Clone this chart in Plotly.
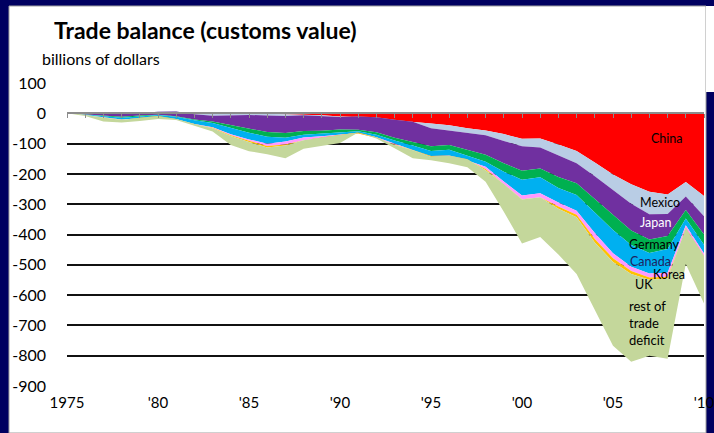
import plotly.graph_objects as go

# US trade balance by partner, billions of dollars (customs value)
years = list(range(1975, 2011))

china = [0.2, 0.0, 0.0, 0.5, 1.1, 2.7, 1.7, 0.3, -0.3, -0.1, 0.0, -1.7, -2.8, -3.5, -6.2, -10.4,
         -12.7, -18.3, -22.8, -29.5, -33.8, -39.5, -49.7, -56.9, -68.7, -83.8, -83.1, -103.1,
         -124.1, -162.3, -202.3, -234.1, -258.5, -268.0, -226.9, -273.1]
mexico = [2.0, 1.3, -0.7, -0.4, 0.0, 2.3, 4.0, -3.8, -7.7, -5.8, -5.5, -5.2, -5.7, -2.6, -2.2, -1.9,
          2.1, 5.4, 1.7, 1.4, -15.8, -17.5, -14.5, -15.9, -22.8, -24.6, -30.0, -37.1, -40.6,
          -45.1, -49.7, -64.4, -74.8, -64.7, -47.8, -66.4]
japan = [-1.7, -5.4, -8.0, -11.6, -8.7, -10.0, -15.8, -17.0, -19.3, -33.6, -46.2, -55.0, -56.3,
         -52.1, -49.1, -41.1, -43.4, -49.6, -59.4, -65.7, -59.1, -47.6, -56.1, -64.0, -73.4,
         -81.6, -69.0, -70.1, -66.0, -75.6, -82.7, -88.4, -82.8, -72.3, -44.7, -60.1]
germany = [0.6, -0.2, -1.3, -3.1, -2.9, -0.9, -1.6, -2.5, -4.4, -9.0, -12.2, -15.6, -16.3, -12.2,
           -8.3, -9.4, -4.9, -8.3, -9.6, -12.5, -15.5, -15.5, -18.7, -23.2, -28.1, -29.1, -29.1,
           -35.9, -39.2, -45.9, -50.6, -47.9, -44.7, -43.0, -28.2, -34.3]
canada = [0.9, -0.9, -4.4, -5.6, -5.8, -6.6, -7.1, -12.7, -14.4, -20.4, -22.2, -23.3, -11.7, -9.8,
          -9.6, -7.7, -6.0, -8.0, -10.8, -14.6, -18.1, -22.8, -16.4, -16.6, -32.1, -51.9, -52.8,
          -48.2, -51.7, -65.8, -76.5, -71.8, -68.2, -78.3, -21.6, -28.5]
korea = [-0.1, -0.5, -0.8, -1.1, -0.2, 0.5, 0.3, -0.4, -1.9, -3.6, -4.8, -7.1, -9.9, -8.9, -6.3,
         -4.1, -1.5, -2.0, -2.3, 0.0, 1.3, 3.9, 2.1, -7.5, -8.2, -12.5, -13.0, -13.0, -13.2,
         -19.8, -16.3, -13.6, -13.2, -13.4, -10.6, -10.0]
uk = [1.0, 0.9, 0.4, -0.6, 1.8, 2.7, 0.0, 0.5, -1.1, -2.6, -4.2, -4.7, -3.5, -0.2, 2.1, 3.0, 3.3,
      1.4, -1.4, -0.9, -2.0, -0.1, 1.3, -4.1, -0.3, -1.4, -0.1, -7.5, -8.4, -11.5, -12.6, -9.8,
      -6.8, -5.2, 1.5, 1.4]
rest = [-2.9, -4.2, -12.2, -8.1, -10.3, -9.7, -3.5, -4.4, -10.9, -29.9, -29.9, -22.4, -41.8,
        -27.7, -27.4, -26.4, 0.0, -4.0, -10.4, -26.2, -12.0, -25.9, -26.0, -37.8, -91.4, -145.1,
        -130.9, -151.1, -186.8, -224.0, -276.3, -290.0, -251.0, -265.1, -118.7, -157.0]

series = [("China", china, "#FF0000"),
          ("Mexico", mexico, "#B9CDE5"),
          ("Japan", japan, "#7030A0"),
          ("Germany", germany, "#00B050"),
          ("Canada", canada, "#00B0F0"),
          ("Korea", korea, "#FF99FF"),
          ("UK", uk, "#FFC000"),
          ("rest of trade deficit", rest, "#C4D79B")]

y_ticks = [100, 0, -100, -200, -300, -400, -500, -600, -700, -800, -900]
y_text = ["100", "0", "-100", "-200", "-300", "-400", "-500", "-600", "-700", "-800", "-900"]
x_ticks = [1975, 1980, 1985, 1990, 1995, 2000, 2005, 2010]
x_text = ["1975", "'80", "'85", "'90", "'95", "'00", "'05", "'10"]

FONT = "Lato"

fig = go.Figure()
for name, vals, col in series:
    fig.add_trace(go.Scatter(x=years, y=vals, name=name, stackgroup="one",
                             mode="lines", line=dict(width=0, color=col),
                             fillcolor=col, showlegend=False))

# helper trace so the zero-line axis gets drawn
fig.add_trace(go.Scatter(x=[1975], y=[None], xaxis="x2", showlegend=False, hoverinfo="skip"))

L, R, T, B = 67, 10, 83, 47
W, H = 714, 433
pw, ph = W - L - R, H - T - B


def px(x):
    return (x - L) / pw


def py(y):
    return (H - B - y) / ph


fig.update_layout(
    width=W, height=H,
    margin=dict(l=L, r=R, t=T, b=B, autoexpand=False),
    paper_bgcolor="#000060",
    plot_bgcolor="white",
    font=dict(family=FONT, color="black"),
    xaxis=dict(range=[1975, 2010], tickvals=x_ticks, ticktext=x_text, showgrid=False,
               zeroline=False, ticks="", tickfont=dict(size=15), ticklabelstandoff=6,
               ticklabeloverflow="allow", automargin=False),
    xaxis2=dict(range=[1975, 2010], overlaying="x", anchor="free", position=0.9,
                showticklabels=False, showgrid=False, zeroline=False, showline=True,
                linecolor="#8C8C8C", linewidth=2, ticks="outside", ticklen=4,
                tickcolor="#8C8C8C", tickwidth=1, dtick=1, tick0=1975, automargin=False),
    yaxis=dict(range=[-900, 100], tickvals=y_ticks, ticktext=y_text, showgrid=True,
               gridcolor="#111111", gridwidth=1.5, zeroline=False, ticks="",
               tickfont=dict(size=16), ticklabelstandoff=20, automargin=False),
    shapes=[
        dict(type="rect", xref="paper", yref="paper", x0=px(9), x1=px(706), y0=py(433),
             y1=py(6), fillcolor="white", line=dict(color="#A0A0A0", width=1), layer="below"),
        dict(type="rect", xref="paper", yref="paper", x0=px(706), x1=px(715), y0=py(92),
             y1=py(6), fillcolor="white", line=dict(width=0), layer="below"),
    ],
)

fig.add_annotation(text="<b>Trade balance (customs value)</b>", xref="paper", yref="paper",
                   x=px(52), y=py(30), xanchor="left", yanchor="middle", showarrow=False,
                   font=dict(size=23))
fig.add_annotation(text="billions of dollars", xref="paper", yref="paper",
                   x=px(40), y=py(59), xanchor="left", yanchor="middle", showarrow=False,
                   font=dict(size=16))

labels = [("China", 667, 138, "black"),
          ("Mexico", 660, 202, "black"),
          ("Japan", 655, 222, "white"),
          ("Germany", 654, 244, "black"),
          ("Canada", 650, 261, "#1F1F5F"),
          ("Korea", 669, 274, "black"),
          ("UK", 644, 284, "black")]
for txt, x, y, c in labels:
    fig.add_annotation(text=txt, xref="paper", yref="paper", x=px(x), y=py(y),
                       xanchor="center", yanchor="middle", showarrow=False,
                       font=dict(size=12.5, color=c))
fig.add_annotation(text="rest of<br>trade<br>deficit", xref="paper", yref="paper",
                   x=px(627), y=py(323), xanchor="left", yanchor="middle", align="left",
                   showarrow=False, font=dict(size=13))

fig.write_html("out.html", post_script="document.body.style.margin='0';",
               config={"displayModeBar": False})
